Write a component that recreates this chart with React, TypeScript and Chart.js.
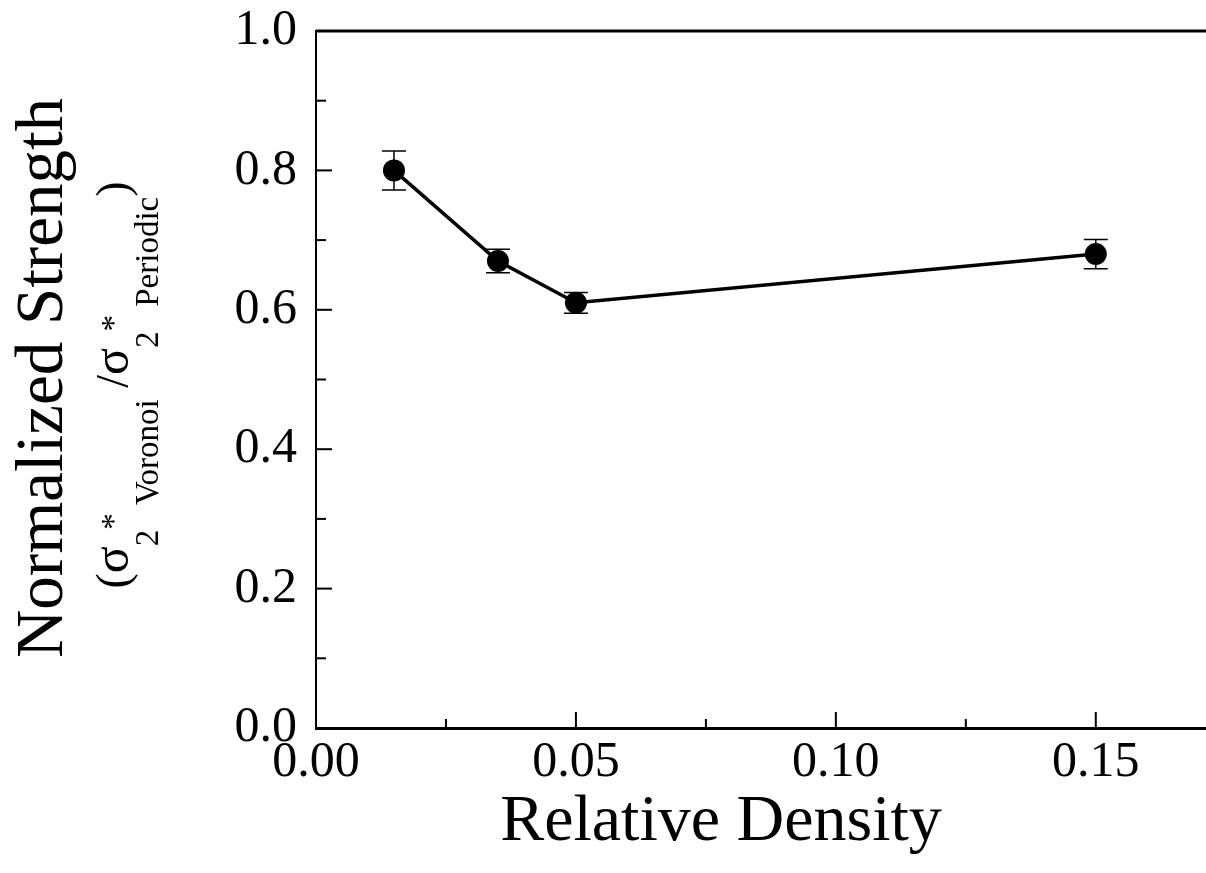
import React, { useEffect, useRef } from 'react';
import { Chart, registerables } from 'chart.js';

Chart.register(...registerables);

const densities = [0.015, 0.035, 0.05, 0.15];
const strengths = [0.80, 0.67, 0.61, 0.68];
const errors = [0.028, 0.017, 0.015, 0.021];
const xMajorTicks = ['0.00', '0.05', '0.10', '0.15'];
const yMajorTicks = ['0.0', '0.2', '0.4', '0.6', '0.8', '1.0'];
const xTitle = 'Relative Density';
const yTitle = 'Normalized Strength';
const sigma = 'σ';
const subTwo = '2';
const star = '*';
const subA = 'Voronoi';
const subB = 'Periodic';

const FONT = "'Liberation Serif', 'Times New Roman', serif";

function drawSubTitle(ctx: CanvasRenderingContext2D, baseX: number, centerY: number) {
  const big = 46;
  const small = 33;
  const subDy = 30;
  const parts: { t: string; size: number; dy: number }[] = [
    { t: '(', size: big, dy: 0 },
    { t: sigma, size: big + 4, dy: 0 },
    { t: subTwo, size: small, dy: subDy },
    { t: star, size: small, dy: -4 },
    { t: ' ' + subA, size: small, dy: subDy },
    { t: ' /', size: big, dy: 0 },
    { t: sigma, size: big + 4, dy: 0 },
    { t: subTwo, size: small, dy: subDy },
    { t: star, size: small, dy: -4 },
    { t: ' ' + subB, size: small, dy: subDy },
    { t: ')', size: big, dy: 0 },
  ];
  ctx.save();
  ctx.translate(baseX, centerY);
  ctx.rotate(-Math.PI / 2);
  ctx.fillStyle = '#000';
  ctx.textBaseline = 'alphabetic';
  ctx.textAlign = 'left';
  let total = 0;
  const widths = parts.map((p) => {
    ctx.font = `${p.size}px ${FONT}`;
    const w = ctx.measureText(p.t).width;
    total += w;
    return w;
  });
  let x = -total / 2;
  parts.forEach((p, i) => {
    ctx.font = `${p.size}px ${FONT}`;
    ctx.fillText(p.t, x, p.dy);
    x += widths[i];
  });
  ctx.restore();
}

const decorPlugin = {
  id: 'decor',
  beforeDatasetsDraw(chart: any) {
    const ctx = chart.ctx as CanvasRenderingContext2D;
    const xs = chart.scales.x;
    const ys = chart.scales.y;
    const area = chart.chartArea;
    ctx.save();
    ctx.strokeStyle = '#000';
    // top border
    ctx.lineWidth = 3;
    ctx.beginPath();
    ctx.moveTo(area.left, area.top);
    ctx.lineTo(chart.width, area.top);
    ctx.stroke();
    // x tick marks (inward)
    ctx.lineWidth = 2;
    xs.ticks.forEach((t: any) => {
      const major = xMajorTicks.includes(Number(t.value).toFixed(2));
      const px = xs.getPixelForValue(t.value);
      const len = major ? 16 : 9;
      ctx.beginPath();
      ctx.moveTo(px, area.bottom);
      ctx.lineTo(px, area.bottom - len);
      ctx.stroke();
    });
    // y tick marks (inward)
    ys.ticks.forEach((t: any) => {
      const major = yMajorTicks.includes(Number(t.value).toFixed(1));
      const py = ys.getPixelForValue(t.value);
      const len = major ? 16 : 10;
      ctx.beginPath();
      ctx.moveTo(area.left, py);
      ctx.lineTo(area.left + len, py);
      ctx.stroke();
    });
    // error bars
    const meta = chart.getDatasetMeta(0);
    ctx.lineWidth = 1.5;
    meta.data.forEach((pt: any, i: number) => {
      const yTop = ys.getPixelForValue(strengths[i] + errors[i]);
      const yBot = ys.getPixelForValue(strengths[i] - errors[i]);
      const cap = 12;
      ctx.beginPath();
      ctx.moveTo(pt.x, yTop);
      ctx.lineTo(pt.x, yBot);
      ctx.moveTo(pt.x - cap, yTop);
      ctx.lineTo(pt.x + cap, yTop);
      ctx.moveTo(pt.x - cap, yBot);
      ctx.lineTo(pt.x + cap, yBot);
      ctx.stroke();
    });
    ctx.restore();
  },
  afterDraw(chart: any) {
    const ctx = chart.ctx as CanvasRenderingContext2D;
    ctx.save();
    ctx.fillStyle = '#000';
    // x title
    ctx.font = `66px ${FONT}`;
    ctx.textAlign = 'center';
    ctx.textBaseline = 'alphabetic';
    ctx.fillText(xTitle, 721, 840);
    // y title
    ctx.save();
    ctx.translate(62, 378);
    ctx.rotate(-Math.PI / 2);
    ctx.textAlign = 'center';
    ctx.textBaseline = 'alphabetic';
    ctx.font = `67px ${FONT}`;
    ctx.fillText(yTitle, 0, 0);
    ctx.restore();
    drawSubTitle(ctx, 128, 385);
    ctx.restore();
  },
};

export default function App() {
  const ref = useRef<HTMLCanvasElement | null>(null);
  useEffect(() => {
    if (!ref.current) return;
    const chart = new Chart(ref.current, {
      type: 'line',
      data: {
        datasets: [
          {
            data: densities.map((d, i) => ({ x: d, y: strengths[i] })),
            borderColor: '#000',
            backgroundColor: '#000',
            borderWidth: 3.5,
            pointRadius: 11,
            pointBackgroundColor: '#000',
            pointBorderColor: '#000',
            pointBorderWidth: 0,
            tension: 0,
          },
        ],
      },
      options: {
        responsive: false,
        animation: false,
        layout: { padding: { top: 31, left: 0, right: 0, bottom: 0 } },
        plugins: {
          legend: { display: false },
          tooltip: { enabled: false },
        },
        scales: {
          x: {
            type: 'linear',
            min: 0,
            max: 0.1712,
            grid: {
              display: true,
              drawOnChartArea: false,
              drawTicks: true,
              tickLength: 10,
              color: 'rgba(0,0,0,0)',
            },
            border: { display: true, color: '#000', width: 3 },
            ticks: {
              stepSize: 0.025,
              includeBounds: false,
              autoSkip: false,
              maxRotation: 0,
              padding: 0,
              color: '#000',
              font: { family: FONT, size: 50, lineHeight: 1 },
              callback: (v: any) => {
                const s = Number(v).toFixed(2);
                return xMajorTicks.includes(s) ? s : '';
              },
            },
            afterFit: (s: any) => {
              s.height = 145;
            },
          },
          y: {
            type: 'linear',
            min: 0,
            max: 1.0,
            grid: {
              display: true,
              drawOnChartArea: false,
              drawTicks: true,
              tickLength: 19,
              color: 'rgba(0,0,0,0)',
            },
            border: { display: true, color: '#000', width: 2 },
            ticks: {
              stepSize: 0.1,
              autoSkip: false,
              padding: 0,
              color: '#000',
              font: { family: FONT, size: 50, lineHeight: 1 },
              callback: (v: any) => {
                const s = Number(v).toFixed(1);
                return yMajorTicks.includes(s) ? s : '';
              },
            },
            afterFit: (s: any) => {
              s.width = 316;
            },
          },
        },
      },
      plugins: [decorPlugin],
    });
    return () => chart.destroy();
  }, []);
  return (
    <div
      style={{
        position: 'absolute',
        left: 0,
        top: 0,
        width: 1206,
        height: 873,
        overflow: 'hidden',
        background: '#fff',
      }}
    >
      <canvas ref={ref} width={1217} height={873} style={{ display: 'block' }} />
    </div>
  );
}
